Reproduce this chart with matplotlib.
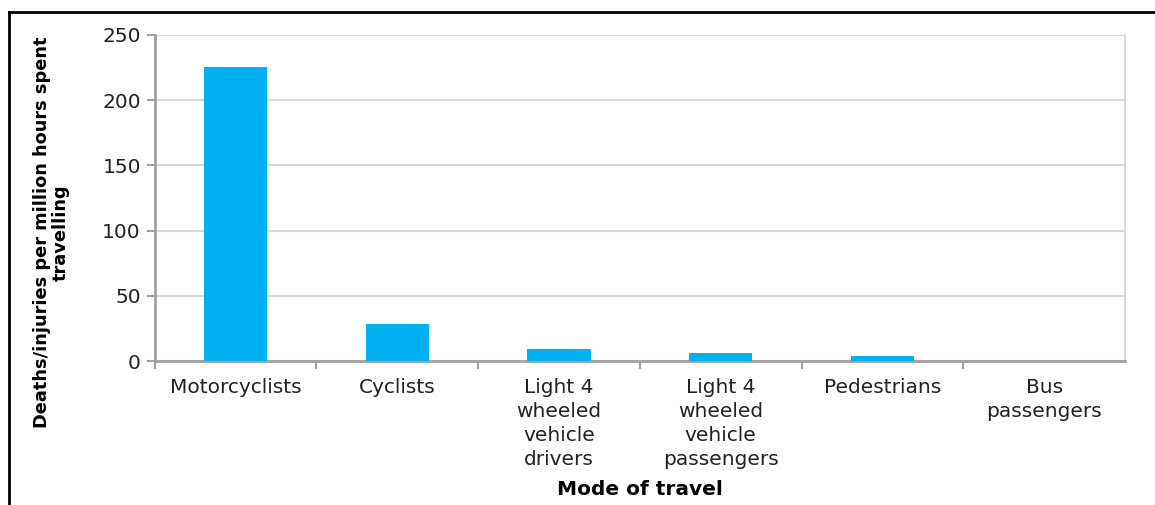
import matplotlib.pyplot as plt
from matplotlib.lines import Line2D

# Data
modes = ["Motorcyclists", "Cyclists", "Light 4\nwheeled\nvehicle\ndrivers",
         "Light 4\nwheeled\nvehicle\npassengers", "Pedestrians", "Bus\npassengers"]
rates = [225.5, 28.4, 9.2, 6.4, 4.1, 0.2]
y_ticks = [0, 50, 100, 150, 200, 250]

fig = plt.figure(figsize=(11.55, 5.05), dpi=100)
ax = fig.add_axes([0.134, 0.285, 0.840, 0.646])

positions = list(range(len(modes)))
ax.bar(positions, rates, width=0.39, color="#00B0F0", zorder=3)

ax.set_xlim(-0.5, len(modes) - 0.5)
ax.set_ylim(0, 250)
ax.set_yticks(y_ticks)
ax.set_xticks(positions)
ax.set_xticklabels(modes, fontsize=14.5, linespacing=1.35)
ax.set_xticks([p + 0.5 for p in positions[:-1]] + [-0.5], minor=True)
ax.tick_params(axis="x", which="major", length=0, pad=12, colors="#222222")
ax.tick_params(axis="x", which="minor", length=6, width=1.5, color="#a0a0a0", direction="out")
ax.tick_params(axis="y", length=6, width=1.5, color="#a0a0a0", labelsize=14.5, labelcolor="#222222", pad=4)

# gridlines
ax.yaxis.grid(True, color="#d9d9d9", linewidth=1.5, zorder=0)
ax.set_axisbelow(True)

for side in ["left", "bottom"]:
    ax.spines[side].set_color("#a0a0a0")
    ax.spines[side].set_linewidth(2)
ax.spines["right"].set_color("#d9d9d9")
ax.spines["right"].set_linewidth(1.5)
ax.spines["top"].set_visible(False)

ax.set_ylabel("Deaths/injuries per million hours spent\ntravelling", fontsize=12.8,
              fontweight="bold", linespacing=1.0)
ax.yaxis.set_label_coords(-0.088, 0.395)
ax.set_xlabel("Mode of travel", fontsize=14.5, fontweight="bold")
ax.xaxis.set_label_coords(0.5, -0.365)

# black frame on the top and left of the picture
fig.add_artist(Line2D([0.0078, 1.0], [0.976, 0.976], color="black", linewidth=2))
fig.add_artist(Line2D([0.0078, 0.0078], [0.0, 0.976], color="black", linewidth=2))

fig.savefig("out.png", dpi=100)
